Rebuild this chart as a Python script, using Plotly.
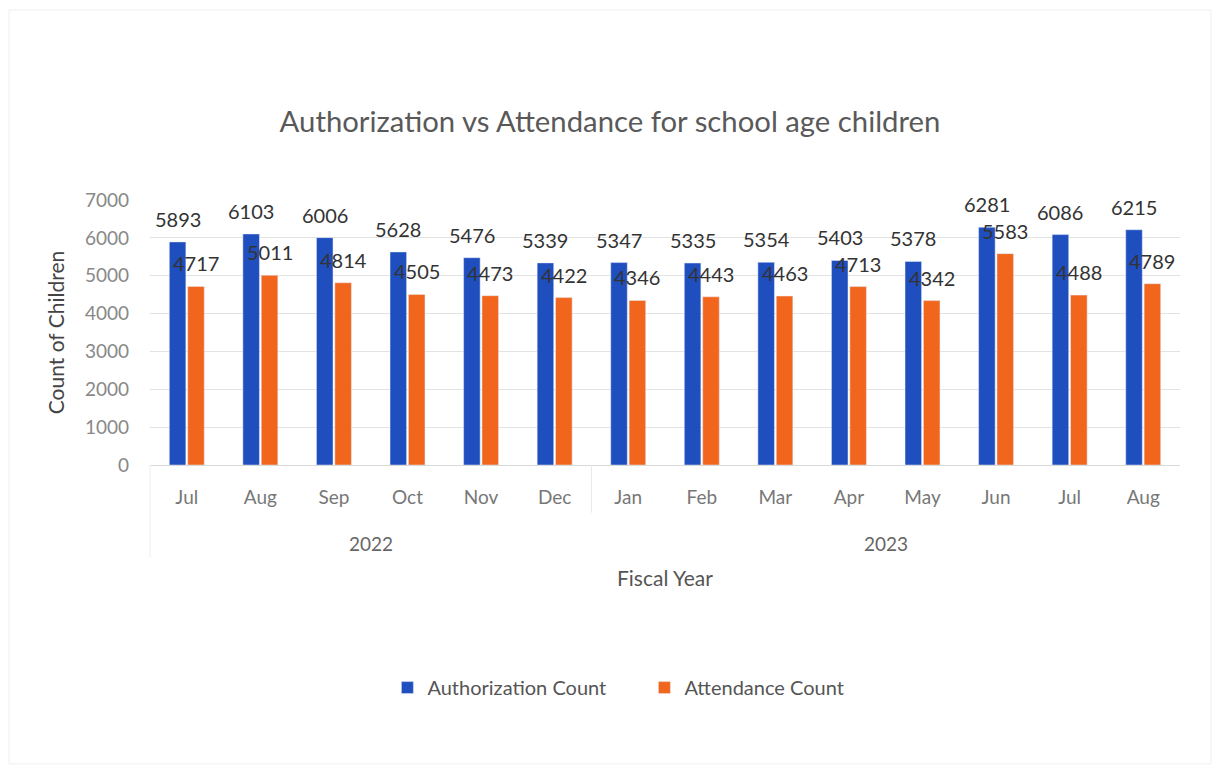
import plotly.graph_objects as go

years = ["2022"] * 6 + ["2023"] * 8
months = ["Jul", "Aug", "Sep", "Oct", "Nov", "Dec", "Jan", "Feb", "Mar", "Apr", "May", "Jun", "Jul", "Aug"]
authorization = [5893, 6103, 6006, 5628, 5476, 5339, 5347, 5335, 5354, 5403, 5378, 6281, 6086, 6215]
attendance = [4717, 5011, 4814, 4505, 4473, 4422, 4346, 4443, 4463, 4713, 4342, 5583, 4488, 4789]

categories = [f"{m} {y}" for m, y in zip(months, years)]
year_labels = ["2022", "2023"]
year_centers = [
    (years.index(y) + len(years) - 1 - years[::-1].index(y)) / 2 for y in year_labels
]

FONT = "Lato, 'Open Sans', sans-serif"
BARGAP = 0.5
BARGROUPGAP = 0.1

fig = go.Figure()
fig.add_trace(go.Bar(
    x=categories, y=authorization, name="Authorization Count",
    marker_color="#1F4EBF",
))
fig.add_trace(go.Bar(
    x=categories, y=attendance, name="Attendance Count",
    marker_color="#F2651C",
))

# data labels above each bar (grouped bar offset within category)
slot = (1 - BARGAP) / 2
annotations = []
for series, sign in ((authorization, -1), (attendance, 1)):
    for i, v in enumerate(series):
        annotations.append(dict(
            x=i + sign * slot / 2, y=v, xref="x", yref="y", text=str(v),
            showarrow=False, yanchor="bottom", yshift=9,
            font=dict(size=20, color="#333333", family=FONT),
        ))

annotations += [
    dict(x=c, y=-0.295, xref="x", yref="paper", text=y, showarrow=False,
         yanchor="middle", font=dict(size=19, color="#666666", family=FONT))
    for c, y in zip(year_centers, year_labels)
]
annotations.append(dict(x=0.5, y=-0.425, xref="paper", yref="paper", text="Fiscal Year",
                        showarrow=False, yanchor="middle",
                        font=dict(size=21, color="#555555", family=FONT)))

split = years.index("2023") - 0.5
shapes = [
    dict(type="line", xref="x", yref="paper", x0=split, x1=split, y0=0, y1=-0.18,
         line=dict(color="#E8E8E8", width=1)),
    dict(type="line", xref="paper", yref="paper", x0=0, x1=0, y0=0, y1=-0.35,
         line=dict(color="#EEEEEE", width=1)),
    dict(type="rect", xref="paper", yref="paper", x0=-0.1369, x1=1.030, y0=-1.128, y1=1.717,
         line=dict(color="#EFEFEF", width=1)),
]

fig.update_layout(
    width=1204, height=758,
    paper_bgcolor="white", plot_bgcolor="white",
    font=dict(family=FONT, color="#555555"),
    title=dict(text="Authorization vs Attendance for school age children",
               x=0.5, xanchor="center", y=0.8496, yanchor="middle",
               font=dict(size=29.3, color="#595959", family=FONT)),
    barmode="group", bargap=BARGAP, bargroupgap=BARGROUPGAP,
    margin=dict(l=142, r=32, t=192, b=301, autoexpand=False),
    legend=dict(orientation="h", x=0.48, xanchor="center", y=-0.84, yanchor="middle",
                font=dict(size=20, color="#555555", family=FONT),
                itemwidth=30, entrywidth=212),
    xaxis=dict(
        tickmode="array", tickvals=categories, ticktext=months,
        tickfont=dict(size=19, color="#777777"),
        showgrid=False, showline=True, linecolor="#D9D9D9",
        ticks="", ticklabelstandoff=15,
    ),
    yaxis=dict(
        title=dict(text="Count of Children", font=dict(size=21, color="#444444"), standoff=14),
        range=[0, 7000], dtick=1000, tickformat="d",
        tickfont=dict(size=19, color="#888888"),
        showgrid=True, gridcolor="#E3E3E3", zeroline=False,
        ticklabelstandoff=20,
    ),
    annotations=annotations,
    shapes=shapes,
)

fig.write_html("out.html")
